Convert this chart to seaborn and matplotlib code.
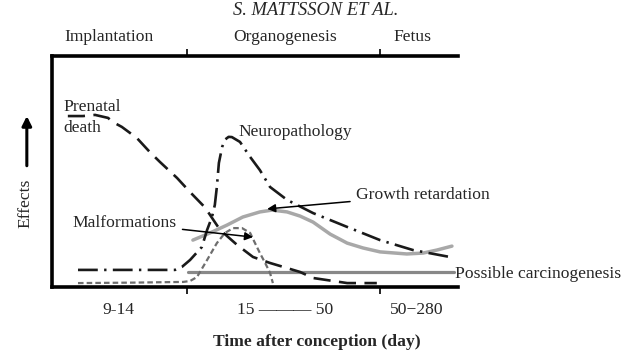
import matplotlib
matplotlib.use('Agg')
import matplotlib.pyplot as plt
import seaborn as sns
import pandas as pd

# values (x: position along the time axis 0-100, y: effect 0-100)
prenatal_x = [3.9, 7.6, 10.6, 13.8, 15.0, 17.2, 20.9, 24.1, 26.6, 30.8, 34.0, 37.7, 41.4, 45.6,
              49.5, 53.7, 57.9, 61.1, 64.3, 72.7, 80.0]
prenatal_y = [74.0, 74.0, 74.5, 73.2, 71.4, 69.3, 64.5, 58.4, 54.1, 47.2, 41.1, 34.4, 24.7, 18.2,
              13.0, 10.4, 8.2, 6.5, 3.9, 1.7, 1.7]

neuro_x = [6.4, 30.3, 32.0, 34.0, 36.9, 38.2, 39.4, 40.1, 40.6, 41.1, 41.9, 42.6, 43.5, 44.3,
           46.3, 48.8, 51.2, 53.7, 57.9, 64.3, 72.7, 80.8, 88.9, 98.0]
neuro_y = [7.4, 7.4, 8.7, 11.7, 17.3, 24.7, 30.3, 35.5, 43.3, 53.7, 60.6, 63.8, 65.0, 64.9,
           62.8, 56.3, 50.6, 43.3, 37.7, 32.0, 26.0, 20.3, 16.0, 13.0]

malf_x = [6.4, 20.0, 32.3, 34.0, 35.7, 38.2, 40.6, 42.6, 44.6, 46.8, 48.8, 50.0, 51.2, 52.5,
          53.7, 54.4]
malf_y = [1.7, 1.9, 2.2, 2.6, 4.3, 11.7, 19.0, 23.4, 25.5, 25.5, 23.4, 19.0, 14.7, 10.4,
          6.1, 1.7]

growth_x = [34.7, 38.9, 43.1, 47.0, 51.2, 54.2, 57.9, 61.1, 64.3, 68.5, 72.7, 76.6, 80.8,
            87.4, 91.4, 94.8, 98.5]
growth_y = [20.3, 23.4, 26.8, 30.3, 32.5, 33.3, 32.5, 30.7, 28.1, 22.9, 19.0, 16.9, 15.2,
            14.3, 14.7, 16.0, 17.7]

carcino_x = [33.5, 99.0]
carcino_y = [6.3, 6.3]

stage_bounds = [33.3, 80.8]
stage_names = ['Implantation', 'Organogenesis', 'Fetus']
stage_name_x = [14.0, 57.5, 88.7]
day_labels = ['9-14', '15 \u2014\u2014\u2014 50', '50\u2212280']
day_label_x = [16.3, 57.4, 89.9]

sns.set_style('white')
plt.rcParams['font.family'] = ['Liberation Serif', 'DejaVu Serif']
plt.rcParams['font.size'] = 12.6

fig = plt.figure(figsize=(6.35, 3.56), dpi=100)
ax = fig.add_axes([0.0819, 0.1938, 0.6394, 0.6489])

def draw(xs, ys, color, lw, dashes=None):
    df = pd.DataFrame({'x': xs, 'y': ys})
    sns.lineplot(data=df, x='x', y='y', sort=False, color=color, linewidth=lw, ax=ax)
    line = ax.lines[-1]
    line.set_solid_joinstyle('round')
    line.set_dash_joinstyle('round')
    if dashes is not None:
        line.set_dashes(dashes)
    return line

draw(carcino_x, carcino_y, '#888888', 2.3)
draw(growth_x, growth_y, '#a8a8a8', 2.5)
draw(malf_x, malf_y, '#6e6e6e', 1.6, (2.5, 1.4))
draw(prenatal_x, prenatal_y, '#1a1a1a', 1.9, (6.5, 3.2))
draw(neuro_x, neuro_y, '#1a1a1a', 1.9, (7.5, 2.4, 0.9, 2.4))

ax.set_xlim(0, 100)
ax.set_ylim(0, 100)
ax.set_xlabel('')
ax.set_ylabel('')
ax.set_yticks([])
ax.set_xticks(stage_bounds)
ax.set_xticklabels([])
ax.tick_params(axis='x', which='major', top=True, bottom=True, direction='out',
               length=5, width=1.2, color='black')

for side in ['left', 'top', 'bottom']:
    ax.spines[side].set_linewidth(2.6)
    ax.spines[side].set_color('black')
ax.spines['right'].set_visible(False)

xt = ax.get_xaxis_transform()
for name, xpos in zip(stage_names, stage_name_x):
    ax.text(xpos, 1.082, name, transform=xt, ha='center', va='center')
for lab, xpos in zip(day_labels, day_label_x):
    ax.text(xpos, -0.10, lab, transform=xt, ha='center', va='center')

ax.text(0.65, 1.199, 'S. MATTSSON ET AL.', transform=ax.transAxes, ha='center',
        va='center', style='italic', fontsize=13.3)
ax.text(0.651, -0.238, 'Time after conception (day)', transform=ax.transAxes,
        ha='center', va='center', fontweight='bold')

ax.text(-0.066, 0.364, 'Effects', transform=ax.transAxes, rotation=90,
        ha='center', va='center')
ax.annotate('', xy=(-0.062, 0.74), xytext=(-0.062, 0.525),
            xycoords='axes fraction', textcoords='axes fraction',
            arrowprops=dict(arrowstyle='-|>', color='black', lw=2.2,
                            mutation_scale=14, shrinkA=0, shrinkB=0),
            annotation_clip=False)

ax.text(2.8, 73.5, 'Prenatal\ndeath', ha='left', va='center', linespacing=1.45)
ax.text(46.0, 67.0, 'Neuropathology', ha='left', va='center')
ax.annotate('Growth retardation', xy=(53.0, 33.8), xytext=(74.9, 39.8),
            ha='left', va='center',
            arrowprops=dict(arrowstyle='-|>', color='black', lw=1.1,
                            mutation_scale=12, shrinkB=0))
ax.annotate('Malformations', xy=(49.5, 21.6), xytext=(5.0, 27.7),
            ha='left', va='center',
            arrowprops=dict(arrowstyle='-|>', color='black', lw=1.1,
                            mutation_scale=12, shrinkB=0))
ax.text(99.3, 5.6, 'Possible carcinogenesis', ha='left', va='center',
        clip_on=False)

fig.savefig('out.png', dpi=100)
